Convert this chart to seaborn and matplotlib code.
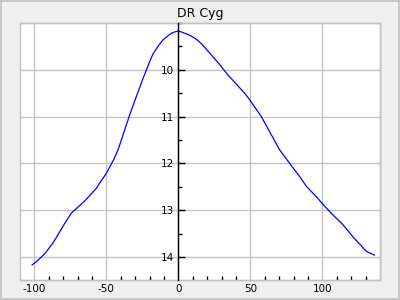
import matplotlib
matplotlib.use("Agg")
import matplotlib.pyplot as plt
import seaborn as sns
import pandas as pd
from matplotlib.ticker import MultipleLocator, FixedLocator

title = "DR Cyg"
phase = [-101.7, -98.6, -92.8, -87.1, -78.9, -74.3, -65.0, -56.9, -54.7, -50.0,
         -45.0, -41.9, -33.8, -29.2, -24.5, -22.2, -20.0, -17.6, -14.0, -10.7,
         -7.5, -4.9, -2.5, -0.2, 2.0, 4.4, 7.0, 10.1, 13.0, 15.9,
         18.5, 21.7, 28.7, 34.4, 46.0, 49.5, 57.6, 70.3,
         77.3, 84.2, 88.9, 95.8, 99.7, 105.1, 114.3, 121.3, 130.6, 136.3]
mag = [14.17, 14.10, 13.93, 13.70, 13.28, 13.06, 12.80, 12.53, 12.42, 12.21,
       11.92, 11.71, 10.96, 10.57, 10.18, 10.00, 9.83, 9.66, 9.49, 9.36,
       9.28, 9.22, 9.19, 9.17, 9.19, 9.22, 9.25, 9.30, 9.36, 9.44,
       9.53, 9.64, 9.89, 10.11, 10.50, 10.64, 11.00, 11.71,
       12.00, 12.28, 12.49, 12.71, 12.85, 13.03, 13.31, 13.57, 13.88, 13.96]
xticks = [-100, -50, 0, 50, 100]
xminor = [-100, -90, -80, -70, -60, -50, -40, -30, -20, -10, 0, 10, 20, 30,
          40, 50, 60, 70, 80, 90, 100, 110, 120, 130]
yticks = [10, 11, 12, 13, 14]

df = pd.DataFrame({"phase": phase, "mag": mag})

sns.set_style("white")
plt.rcParams["font.family"] = ["DejaVu Sans"]
plt.rcParams["axes.unicode_minus"] = False

fig = plt.figure(figsize=(4, 3), dpi=100)
fig.patch.set_facecolor("#efefef")
fig.patch.set_edgecolor("#c8c8c8")
fig.patch.set_linewidth(1.5)
ax = fig.add_axes([0.05, 0.0667, 0.90, 0.8566])
ax.set_facecolor("white")

sns.lineplot(data=df, x="phase", y="mag", color="blue", linewidth=0.9,
             estimator=None, sort=False, ax=ax)

ax.set_xlim(-110, 140)
ax.set_ylim(14.49, 9.0)
ax.set_xticks(xticks)
ax.set_yticks(yticks)
ax.set_xticklabels([str(v) for v in xticks])
ax.set_yticklabels([str(v) for v in yticks])
ax.xaxis.set_minor_locator(FixedLocator(xminor))
ax.yaxis.set_minor_locator(MultipleLocator(0.5))
ax.grid(True, which="major", color="#c4c4c4", linewidth=1)
ax.set_axisbelow(True)
ax.set_xlabel("")
ax.set_ylabel("")

for s in ["top", "right", "bottom"]:
    ax.spines[s].set_color("#c0c0c0")
    ax.spines[s].set_linewidth(1)
ax.spines["left"].set_position(("data", 0))
ax.spines["left"].set_color("black")
ax.spines["left"].set_linewidth(1)
ax.spines["left"].set_zorder(3)
ax.patch.set_edgecolor("#c0c0c0")
ax.patch.set_linewidth(1)

ax.tick_params(axis="x", which="major", direction="in", length=5, width=1,
               color="black", labelcolor="black", labelsize=7.5, pad=3)
ax.tick_params(axis="x", which="minor", direction="in", length=3, width=1,
               color="black", bottom=True)
ax.tick_params(axis="y", which="major", direction="in", length=5, width=1,
               color="black", labelcolor="black", labelsize=7.5, pad=3, left=True)
ax.tick_params(axis="y", which="minor", direction="in", length=3, width=1,
               color="black", left=True)

ax.set_title(title, fontsize=9, pad=4, color="black")

fig.savefig("out.png", dpi=100, facecolor=fig.get_facecolor(),
            edgecolor=fig.get_edgecolor())
